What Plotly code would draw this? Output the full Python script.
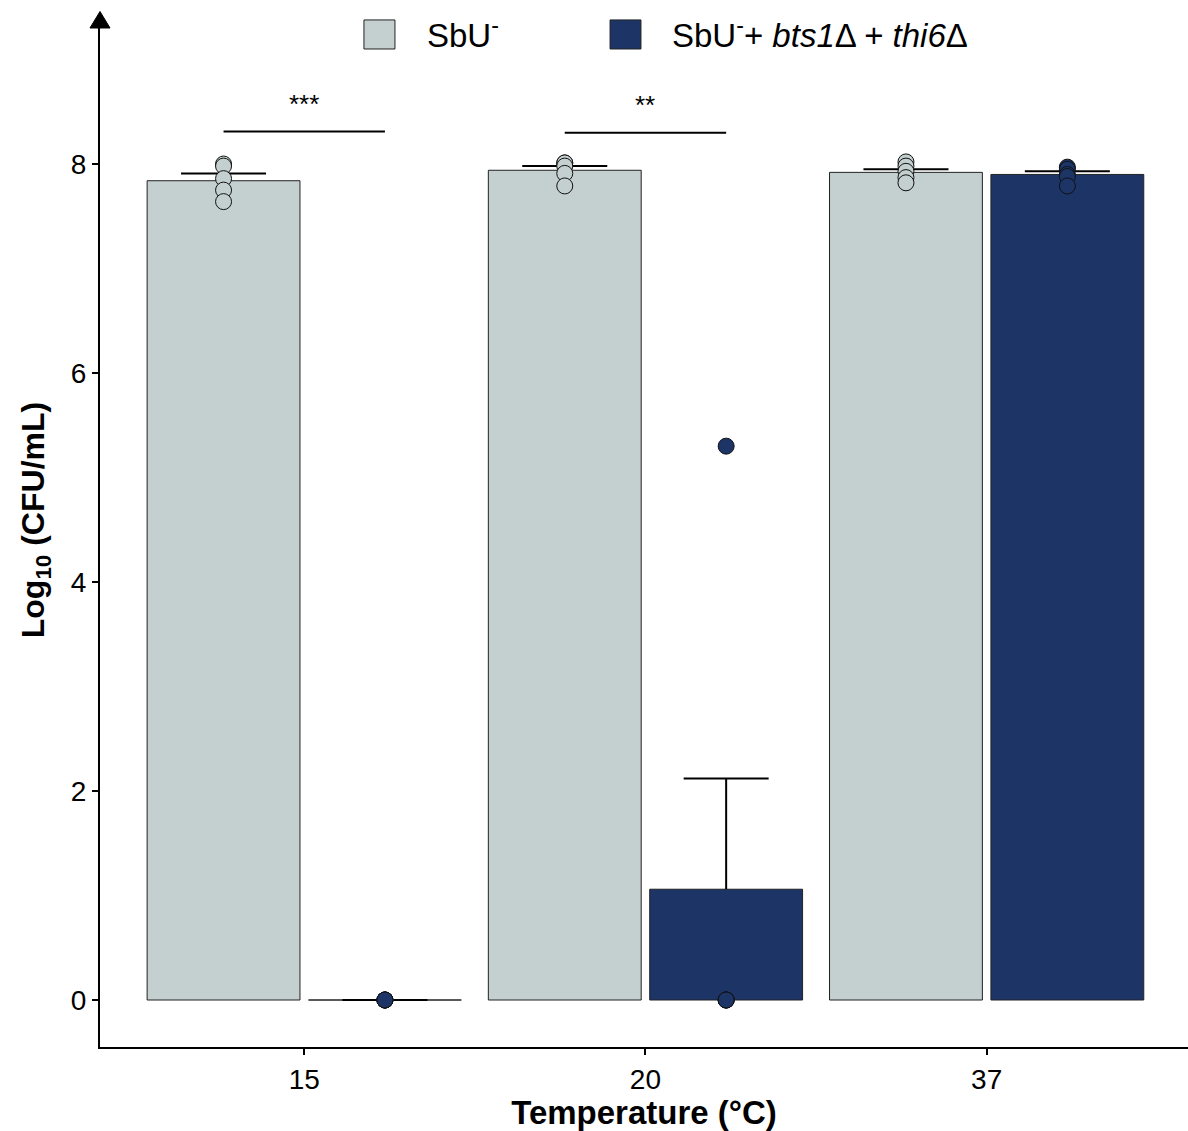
import plotly.graph_objects as go

# ---------------- data ----------------
temperatures = ["15", "20", "37"]
group_names = ["SbU<sup>-</sup>", "SbU<sup>-</sup>+ <i>bts1</i>Δ + <i>thi6</i>Δ"]

mean_sbu = [7.84, 7.94, 7.92]
se_sbu = [0.07, 0.04, 0.03]
points_sbu = [
    [8.00, 7.98, 7.86, 7.75, 7.64],
    [8.01, 8.01, 7.98, 7.91, 7.79],
    [8.02, 7.98, 7.93, 7.87, 7.82],
]

mean_mut = [0.0, 1.06, 7.90]
se_mut = [0.0, 1.06, 0.03]
points_mut = [
    [0.0, 0.0, 0.0, 0.0, 0.0],
    [5.30, 0.0, 0.0, 0.0, 0.0],
    [7.97, 7.95, 7.90, 7.88, 7.79],
]

sig_labels = ["***", "**", ""]
sig_height = [8.31, 8.30, None]

y_ticks = [0, 2, 4, 6, 8]

# ---------------- style ----------------
col_sbu = "#C4CFD0"
col_mut = "#1D3467"
FONT = "Liberation Sans, Arial, Helvetica, sans-serif"
dodge = 0.2365
bar_w = 0.448
cap_half = 0.1246

xc = list(range(len(temperatures)))
x_sbu = [x - dodge for x in xc]
x_mut = [x + dodge for x in xc]

fig = go.Figure()

for xs, means, col, name in [
    (x_sbu, mean_sbu, col_sbu, group_names[0]),
    (x_mut, mean_mut, col_mut, group_names[1]),
]:
    fig.add_trace(go.Bar(
        x=xs, y=means, width=bar_w, name=name,
        marker=dict(color=col, line=dict(color="#222222", width=1)),
        showlegend=False,
    ))

# upper error bars (mean -> mean + se, with cap)
for xs, means, se in [(x_sbu, mean_sbu, se_sbu), (x_mut, mean_mut, se_mut)]:
    ex, ey = [], []
    for x, m, s in zip(xs, means, se):
        ex += [x, x, None, x - cap_half, x + cap_half, None]
        ey += [m, m + s, None, m + s, m + s, None]
    fig.add_trace(go.Scatter(x=ex, y=ey, mode="lines", line=dict(color="black", width=2),
                             showlegend=False, hoverinfo="skip"))

for xs, pts, col in [(x_sbu, points_sbu, col_sbu), (x_mut, points_mut, col_mut)]:
    px_, py_ = [], []
    for x, p in zip(xs, pts):
        px_ += [x] * len(p)
        py_ += p
    fig.add_trace(go.Scatter(
        x=px_, y=py_, mode="markers",
        marker=dict(size=16, color=col, line=dict(color="#111111", width=1)),
        showlegend=False, hoverinfo="skip",
    ))

# significance brackets
for i, (lab, h) in enumerate(zip(sig_labels, sig_height)):
    if not lab:
        continue
    fig.add_shape(type="line", x0=x_sbu[i], x1=x_mut[i], y0=h, y1=h,
                  xref="x", yref="y", line=dict(color="black", width=2))
    fig.add_annotation(x=xc[i], y=h, xref="x", yref="y", text=lab, showarrow=False,
                       yanchor="bottom", yshift=11, font=dict(size=26, color="black", family=FONT))

# axis arrow head
fig.add_shape(type="path", xref="paper", yref="paper",
              path="M -0.0092 1.0 L 0.0092 1.0 L 0 1.0162 Z",
              fillcolor="black", line=dict(color="black", width=1))

# custom legend
leg = [(0.2426, 0.2711, 0.2985, col_sbu, group_names[0]),
       (0.4688, 0.4972, 0.5240, col_mut, group_names[1])]
for x0, x1, xt, col, name in leg:
    fig.add_shape(type="rect", xref="paper", yref="paper", x0=x0, x1=x1, y0=0.9794, y1=1.0079,
                  fillcolor=col, line=dict(color="#222222", width=1))
    fig.add_annotation(xref="paper", yref="paper", x=xt, y=0.9947, text=name, showarrow=False,
                       xanchor="left", yanchor="middle", font=dict(size=33, color="black", family=FONT))

# y-axis title as annotation for exact placement
fig.add_annotation(xref="paper", yref="paper", x=-0.0597, y=0.517, text="<b>Log<sub>10</sub> (CFU/mL)</b>",
                   textangle=-90, showarrow=False, xanchor="center", yanchor="middle",
                   font=dict(size=32, color="black", family=FONT))

fig.update_layout(
    width=1188, height=1131,
    margin=dict(l=100, r=0, t=28, b=84),
    plot_bgcolor="white", paper_bgcolor="white",
    barmode="overlay",
    font=dict(family=FONT, color="black"),
    xaxis=dict(
        range=[-0.5986, 2.5901], tickvals=xc, ticktext=temperatures,
        showline=True, linecolor="black", linewidth=2,
        ticks="outside", ticklen=6, tickwidth=2, tickcolor="black",
        tickfont=dict(size=28, color="black", family=FONT),
        showgrid=False, zeroline=False,
        title=dict(text="<b>Temperature (°C)</b>", font=dict(size=33, color="black", family=FONT), standoff=6),
    ),
    yaxis=dict(
        range=[-0.4498, 9.3014], tickvals=y_ticks, ticktext=[str(v) for v in y_ticks],
        showline=True, linecolor="black", linewidth=2,
        ticks="outside", ticklen=6, tickwidth=2, tickcolor="black",
        tickfont=dict(size=28, color="black", family=FONT),
        showgrid=False, zeroline=False,
    ),
)

fig.write_html("out.html")
